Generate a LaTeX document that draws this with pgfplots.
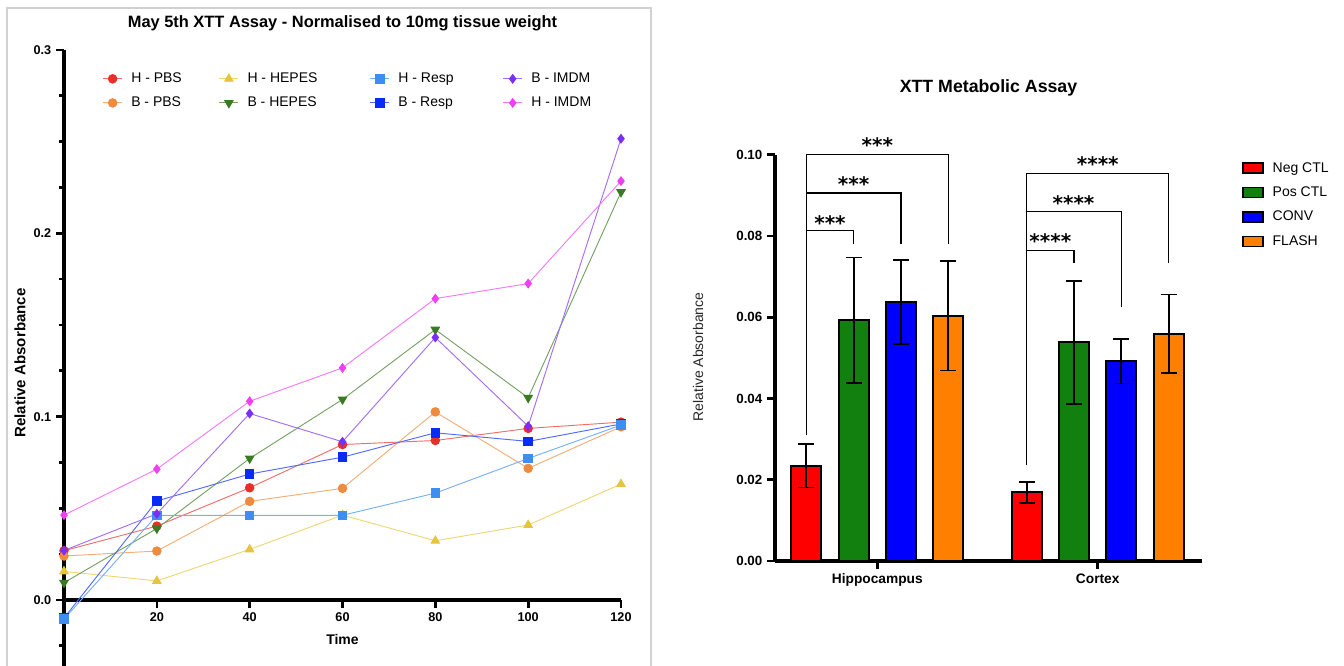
\documentclass[border=0pt]{standalone}
\usepackage{pgfplots}
\pgfplotsset{compat=1.18}
\usepackage{fontspec}
\setmainfont{Liberation Sans}
\newfontfamily\djv{DejaVu Sans}
\definecolor{hpbs}{HTML}{E8302A}
\definecolor{bpbs}{HTML}{F08A3C}
\definecolor{hhepes}{HTML}{E6C43C}
\definecolor{bhepes}{HTML}{3A7A22}
\definecolor{hresp}{HTML}{3D8EF0}
\definecolor{bresp}{HTML}{0A2AF5}
\definecolor{bimdm}{HTML}{7B2FF2}
\definecolor{himdm}{HTML}{F03FF0}
\definecolor{cneg}{HTML}{FF0000}
\definecolor{cpos}{HTML}{12800F}
\definecolor{cconv}{HTML}{0000FF}
\definecolor{cflash}{HTML}{FF8000}
\pgfplotsset{
  sH-PBS/.style={color=hpbs!70, line width=0.7pt, mark=*, mark size=3.2pt, mark options={solid, fill=hpbs, draw=hpbs}},
  sB-PBS/.style={color=bpbs!70, line width=0.7pt, mark=*, mark size=3.2pt, mark options={solid, fill=bpbs, draw=bpbs}},
  sH-HEPES/.style={color=hhepes!70, line width=0.7pt, mark=triangle*, mark size=3.6pt, mark options={solid, fill=hhepes, draw=hhepes}},
  sB-HEPES/.style={color=bhepes!70, line width=0.7pt, mark=triangle*, mark size=3.6pt, mark options={solid, fill=bhepes, draw=bhepes, rotate=180}},
  sH-Resp/.style={color=hresp!70, line width=0.7pt, mark=square*, mark size=3.2pt, mark options={solid, fill=hresp, draw=hresp}},
  sB-Resp/.style={color=bresp!70, line width=0.7pt, mark=square*, mark size=3.2pt, mark options={solid, fill=bresp, draw=bresp}},
  sB-IMDM/.style={color=bimdm!70, line width=0.7pt, mark=diamond*, mark size=3.2pt, mark options={solid, fill=bimdm, draw=bimdm}},
  sH-IMDM/.style={color=himdm!70, line width=0.7pt, mark=diamond*, mark size=3.2pt, mark options={solid, fill=himdm, draw=himdm}},
  thickaxes/.style={
    every outer x axis line/.append style={line width=2.4pt, black},
    every outer y axis line/.append style={line width=2.4pt, black},
    every inner x axis line/.append style={line width=2.4pt, black},
    every inner y axis line/.append style={line width=2.4pt, black},
  },
}
\begin{document}
\begin{tikzpicture}
\path[use as bounding box] (0pt,0pt) rectangle (1008pt,499.5pt);
% light frame of left panel
\draw[black!18, line width=1.5pt] (5.25pt,-2pt) -- (5.25pt,493.5pt) -- (488.25pt,493.5pt) -- (488.25pt,-2pt);
\begin{axis}[
  at={(48pt,0pt)}, anchor=south west,
  scale only axis, width=417.75pt, height=462pt,
  xmin=0, xmax=120, ymin=-0.036, ymax=0.3,
  axis x line=middle, axis y line=left,
  axis line style={-},
  thickaxes,
  xtick={20,40,60,80,100,120},
  ytick={0,0.1,0.2,0.3},
  minor ytick={-0.025,0.025,0.05,0.075,0.125,0.15,0.175,0.225,0.25,0.275},
  tick align=outside,
  major tick length=6pt, minor tick length=4pt,
  every tick/.style={line width=2pt, black},
  every minor tick/.style={line width=2pt, black},
  /pgf/number format/assume math mode=true,
  yticklabel style={/pgf/number format/.cd, fixed, fixed zerofill, precision=1},
  ticklabel style={font=\bfseries\fontsize{9.5}{11}\selectfont},
  title={\bfseries May 5th XTT Assay - Normalised to 10mg tissue weight},
  title style={at={(0.5,1)}, anchor=center, yshift=14.25pt, font=\fontsize{12.3}{14}\selectfont},
  ylabel={\bfseries Relative Absorbance},
  ylabel style={at={(axis description cs:-0.079,0.492)}, rotate=0, anchor=center, font=\fontsize{11.3}{13}\selectfont},
  clip=false,
  legend columns=4,
  legend cell align=left,
  legend style={at={(0.069,0.9675)}, anchor=north west, draw=none, fill=none, inner sep=0pt,
    font=\fontsize{10.5}{12}\selectfont, row sep=5.25pt,
    /tikz/every even column/.append style={column sep=0pt}},
  legend image code/.code={\draw[mark repeat=2,mark phase=2,#1] plot coordinates {(0cm,0cm)(0.25cm,0cm)(0.5cm,0cm)};},
]
\addplot[sH-PBS, forget plot] coordinates {(0,0.0269)(20,0.0403)(40,0.0612)(60,0.0848)(80,0.087)(100,0.0936)(120,0.097)};
\addplot[sB-PBS, forget plot] coordinates {(0,0.024)(20,0.0267)(40,0.0538)(60,0.0609)(80,0.1026)(100,0.0718)(120,0.0945)};
\addplot[sH-HEPES, forget plot] coordinates {(0,0.0156)(20,0.0104)(40,0.0276)(60,0.0463)(80,0.0323)(100,0.0409)(120,0.0632)};
\addplot[sB-HEPES, forget plot] coordinates {(0,0.0094)(20,0.039)(40,0.0772)(60,0.1094)(80,0.1475)(100,0.1103)(120,0.2225)};
\addplot[sB-Resp, forget plot] coordinates {(0,-0.0098)(20,0.054)(40,0.0687)(60,0.0779)(80,0.0912)(100,0.0865)(120,0.096)};
\addplot[sH-Resp, forget plot] coordinates {(0,-0.0104)(20,0.0462)(40,0.0462)(60,0.0462)(80,0.0583)(100,0.0772)(120,0.0954)};
\addplot[sB-IMDM, forget plot] coordinates {(0,0.027)(20,0.047)(40,0.1017)(60,0.0863)(80,0.1432)(100,0.0948)(120,0.2516)};
\addplot[sH-IMDM, forget plot] coordinates {(0,0.0463)(20,0.0714)(40,0.1084)(60,0.1266)(80,0.1644)(100,0.1726)(120,0.2285)};
\addlegendimage{sH-PBS}\addlegendentry{\hspace*{4.5pt}\makebox[63.75pt][l]{H - PBS}}
\addlegendimage{sH-HEPES}\addlegendentry{\hspace*{4.5pt}\makebox[89.75pt][l]{H - HEPES}}
\addlegendimage{sH-Resp}\addlegendentry{\hspace*{4.5pt}\makebox[76.25pt][l]{H - Resp}}
\addlegendimage{sB-IMDM}\addlegendentry{\hspace*{4.5pt}B - IMDM}
\addlegendimage{sB-PBS}\addlegendentry{\hspace*{4.5pt}\makebox[63.75pt][l]{B - PBS}}
\addlegendimage{sB-HEPES}\addlegendentry{\hspace*{4.5pt}\makebox[89.75pt][l]{B - HEPES}}
\addlegendimage{sB-Resp}\addlegendentry{\hspace*{4.5pt}\makebox[76.25pt][l]{B - Resp}}
\addlegendimage{sH-IMDM}\addlegendentry{\hspace*{4.5pt}H - IMDM}
\node[font=\bfseries\fontsize{10.5}{12}\selectfont] at (axis cs:60,-0.0218) {Time};
\end{axis}

\begin{axis}[
  at={(581.25pt,78.75pt)}, anchor=south west,
  scale only axis, width=320.25pt, height=304.7pt,
  xmin=-0.464, xmax=1.473, ymin=0, ymax=0.1,
  axis x line*=bottom, axis y line*=left,
  thickaxes,
  xtick={0,1}, xticklabels={Hippocampus,Cortex},
  ytick={0,0.02,0.04,0.06,0.08,0.1},
  tick align=outside, major tick length=6pt,
  every tick/.style={line width=2pt, black},
  /pgf/number format/assume math mode=true,
  yticklabel style={/pgf/number format/.cd, fixed, fixed zerofill, precision=2},
  ticklabel style={font=\bfseries\fontsize{10}{12}\selectfont},
  xticklabel style={font=\bfseries\fontsize{10.3}{12}\selectfont},
  title={\bfseries XTT Metabolic Assay},
  title style={at={(0.5,1)}, anchor=center, yshift=44pt, font=\fontsize{13.3}{15}\selectfont},
  ylabel={Relative Absorbance},
  ylabel style={at={(axis description cs:-0.180,0.502)}, anchor=center, font=\fontsize{10.5}{12}\selectfont, text=black!85},
  clip=false,
  legend cell align=left,
  legend style={at={(1.094,0.9885)}, anchor=north west, draw=none, fill=none, inner sep=0pt,
    font=\fontsize{10.5}{12}\selectfont, row sep=5.5pt},
  error bars/error bar style={line width=1.4pt, draw=black},
  error bars/error mark options={rotate=90, mark size=6pt, line width=1.4pt, draw=black},
]
\addplot[ybar, bar width=0.136, bar shift=0, fill=cneg, draw=black, line width=1.5pt, forget plot,
  error bars/.cd, y dir=both, y explicit] coordinates {(-0.322,0.0234) +- (0,0.0053) (0.678,0.0169) +- (0,0.0026)};
\addplot[ybar, bar width=0.136, bar shift=0, fill=cpos, draw=black, line width=1.5pt, forget plot,
  error bars/.cd, y dir=both, y explicit] coordinates {(-0.107,0.0593) +- (0,0.0154) (0.893,0.0538) +- (0,0.0152)};
\addplot[ybar, bar width=0.136, bar shift=0, fill=cconv, draw=black, line width=1.5pt, forget plot,
  error bars/.cd, y dir=both, y explicit] coordinates {(0.107,0.0637) +- (0,0.0103) (1.107,0.0492) +- (0,0.0055)};
\addplot[ybar, bar width=0.136, bar shift=0, fill=cflash, draw=black, line width=1.5pt, forget plot,
  error bars/.cd, y dir=both, y explicit] coordinates {(0.322,0.0604) +- (0,0.0135) (1.322,0.0559) +- (0,0.0097)};
% significance brackets
\addplot[black, line width=1pt, mark=none, forget plot] coordinates {(-0.322,0.075)(-0.322,0.0813)(-0.107,0.0813)(-0.107,0.078)};
\addplot[black, line width=1pt, mark=none, forget plot] coordinates {(-0.322,0.031)(-0.322,0.0906)(0.107,0.0906)(0.107,0.078)};
\addplot[black, line width=1pt, mark=none, forget plot] coordinates {(-0.322,0.075)(-0.322,0.100)(0.322,0.100)(0.322,0.078)};
\addplot[black, line width=1pt, mark=none, forget plot] coordinates {(0.678,0.073)(0.678,0.0765)(0.893,0.0765)(0.893,0.0734)};
\addplot[black, line width=1pt, mark=none, forget plot] coordinates {(0.678,0.073)(0.678,0.086)(1.107,0.086)(1.107,0.0626)};
\addplot[black, line width=1pt, mark=none, forget plot] coordinates {(0.678,0.0236)(0.678,0.0953)(1.322,0.0953)(1.322,0.0734)};
\node[anchor=base, font=\djv\bfseries\fontsize{15}{15}\selectfont] at (axis cs:-0.2145,0.0814) {***};
\node[anchor=base, font=\djv\bfseries\fontsize{15}{15}\selectfont] at (axis cs:-0.1075,0.0909) {***};
\node[anchor=base, font=\djv\bfseries\fontsize{15}{15}\selectfont] at (axis cs:0,0.1005) {***};
\node[anchor=base, font=\djv\bfseries\fontsize{15}{15}\selectfont] at (axis cs:0.785,0.0768) {****};
\node[anchor=base, font=\djv\bfseries\fontsize{15}{15}\selectfont] at (axis cs:0.89,0.0862) {****};
\node[anchor=base, font=\djv\bfseries\fontsize{15}{15}\selectfont] at (axis cs:1.0,0.0958) {****};
\addlegendimage{legend image code/.code={\draw[draw=black, line width=1.2pt, fill=cneg] (0pt,-3.75pt) rectangle (15pt,3.75pt);}}
\addlegendentry{\hspace*{4.5pt}Neg CTL}
\addlegendimage{legend image code/.code={\draw[draw=black, line width=1.2pt, fill=cpos] (0pt,-3.75pt) rectangle (15pt,3.75pt);}}
\addlegendentry{\hspace*{4.5pt}Pos CTL}
\addlegendimage{legend image code/.code={\draw[draw=black, line width=1.2pt, fill=cconv] (0pt,-3.75pt) rectangle (15pt,3.75pt);}}
\addlegendentry{\hspace*{4.5pt}CONV}
\addlegendimage{legend image code/.code={\draw[draw=black, line width=1.2pt, fill=cflash] (0pt,-3.75pt) rectangle (15pt,3.75pt);}}
\addlegendentry{\hspace*{4.5pt}FLASH}
\end{axis}
\end{tikzpicture}
\end{document}
